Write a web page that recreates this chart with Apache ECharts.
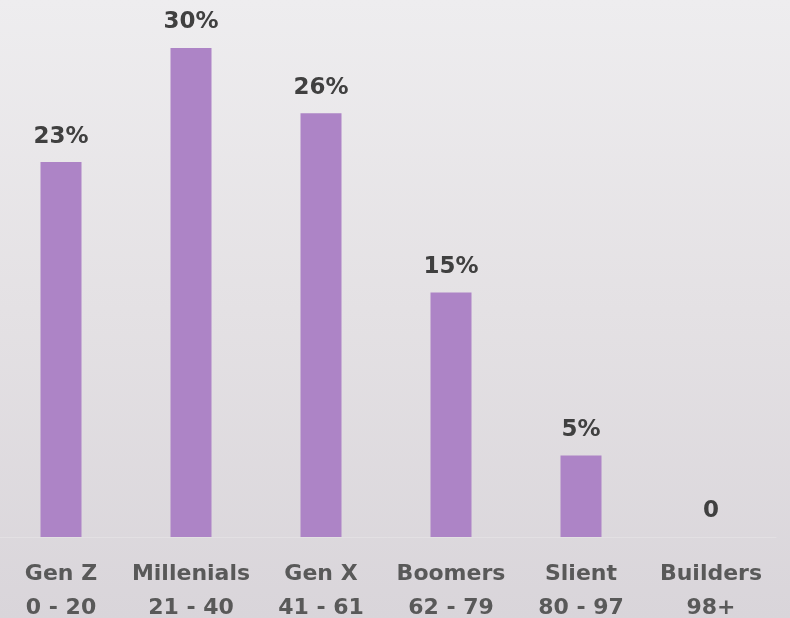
<!DOCTYPE html>
<html>
<head>
<meta charset="utf-8">
<script src="https://cdn.jsdelivr.net/npm/echarts@6/dist/echarts.min.js"></script>
<style>
  html, body { margin: 0; padding: 0; }
  #chart {
    width: 790px;
    height: 618px;
    background: linear-gradient(180deg, #eeedef 0%, #e4e1e4 50%, #d9d5da 100%);
  }
</style>
</head>
<body>
<div id="chart"></div>
<script>
const generations = ['Gen Z', 'Millenials', 'Gen X', 'Boomers', 'Slient', 'Builders']
const ageRanges = ['0 - 20', '21 - 40', '41 - 61', '62 - 79', '80 - 97', '98+']
const shares = [23, 30, 26, 15, 5, 0]

const myChart = echarts.init(document.getElementById('chart'))

const option = {
  backgroundColor: 'transparent',
  grid: { left: -4, right: 14, top: 48, bottom: 81, outerBoundsMode: 'none', containLabel: false },
  xAxis: {
    type: 'category',
    data: generations.map((g, i) => g + '\n' + ageRanges[i]),
    axisTick: { show: false },
    axisLine: { show: true, lineStyle: { color: '#e3e0e3', width: 1 } },
    axisLabel: {
      color: '#595959',
      fontFamily: 'DejaVu Sans',
      fontWeight: 'bold',
      fontSize: 22,
      lineHeight: 34,
      margin: 20,
      interval: 0
    }
  },
  yAxis: {
    type: 'value',
    min: 0,
    max: 30,
    show: false,
    splitLine: { show: false }
  },
  series: [{
    type: 'bar',
    data: shares,
    barWidth: 41,
    itemStyle: { color: '#ad84c6' },
    label: {
      show: true,
      position: 'top',
      distance: 14,
      color: '#404040',
      fontFamily: 'DejaVu Sans',
      fontWeight: 'bold',
      fontSize: 23,
      formatter: (p) => p.value === 0 ? '0' : p.value + '%'
    }
  }]
}
myChart.setOption(option)
</script>
</body>
</html>
